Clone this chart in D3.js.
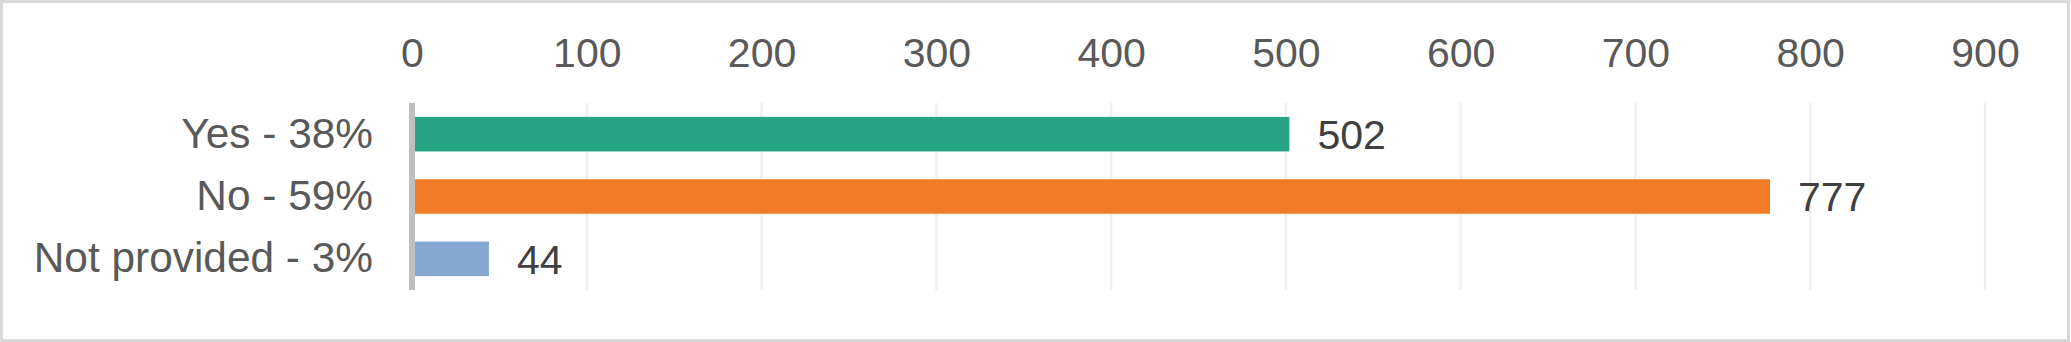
<!DOCTYPE html>
<html>
<head>
<meta charset="utf-8">
<script src="https://cdn.jsdelivr.net/npm/d3@7"></script>
<style>
    body { margin: 0; background: #fff; }
    svg { display: block; font-family: "Liberation Sans", Arial, sans-serif; }
</style>
</head>
<body>
<svg width="2071" height="342"></svg>
<script>
const categories = ["Yes - 38%", "No - 59%", "Not provided - 3%"];
const counts = [502, 777, 44];
const barColors = ["#26a484", "#f27b27", "#85a7d1"];
const tickValues = [0, 100, 200, 300, 400, 500, 600, 700, 800, 900];

var svg = d3.select("svg"),
    width = +svg.attr("width"),
    height = +svg.attr("height");

// chart border
svg.append("rect")
    .attr("x", 1.5).attr("y", 1.5)
    .attr("width", width - 4).attr("height", height - 3)
    .attr("fill", "#fff")
    .attr("stroke", "#d9d9d9")
    .attr("stroke-width", 3);

var x = d3.scaleLinear().domain([0, 900]).range([412, 1985]);
var y = d3.scaleBand().domain(categories).range([103, 290])
    .paddingInner(0.446).paddingOuter(0.223);

// gridlines
svg.append("g")
    .selectAll("line")
    .data(tickValues.slice(1))
    .enter().append("line")
    .attr("x1", d => x(d)).attr("x2", d => x(d))
    .attr("y1", 103).attr("y2", 290)
    .attr("stroke", "#f0f0f0")
    .attr("stroke-width", 2.5);

// top axis labels
var xAxis = svg.append("g")
    .attr("transform", "translate(0,67)")
    .call(d3.axisTop(x).tickValues(tickValues).tickSize(0).tickPadding(0));
xAxis.select(".domain").remove();
xAxis.selectAll("text")
    .attr("font-size", 41)
    .attr("fill", "#595959")
    .attr("font-family", "Liberation Sans, Arial, sans-serif")
    .attr("dy", 0);

// bars
svg.append("g")
    .selectAll("rect")
    .data(counts)
    .enter().append("rect")
    .attr("x", x(0))
    .attr("y", (d, i) => y(categories[i]))
    .attr("width", d => x(d) - x(0))
    .attr("height", y.bandwidth())
    .attr("fill", (d, i) => barColors[i]);

// value labels
svg.append("g")
    .selectAll("text")
    .data(counts)
    .enter().append("text")
    .attr("x", d => x(d) + 28)
    .attr("y", (d, i) => y(categories[i]) + y.bandwidth() / 2)
    .attr("dy", "0.36em")
    .attr("font-size", 41)
    .attr("fill", "#404040")
    .text(d => d);

// category axis
var yAxis = svg.append("g")
    .attr("transform", "translate(" + x(0) + ",0)")
    .call(d3.axisLeft(y).tickSize(0).tickPadding(39));
yAxis.select(".domain").remove();
yAxis.selectAll("text")
    .attr("font-size", 42.4)
    .attr("fill", "#595959")
    .attr("font-family", "Liberation Sans, Arial, sans-serif");

svg.append("line")
    .attr("x1", x(0)).attr("x2", x(0))
    .attr("y1", 103).attr("y2", 290)
    .attr("stroke", "#bfbfbf")
    .attr("stroke-width", 6);
</script>
</body>
</html>
